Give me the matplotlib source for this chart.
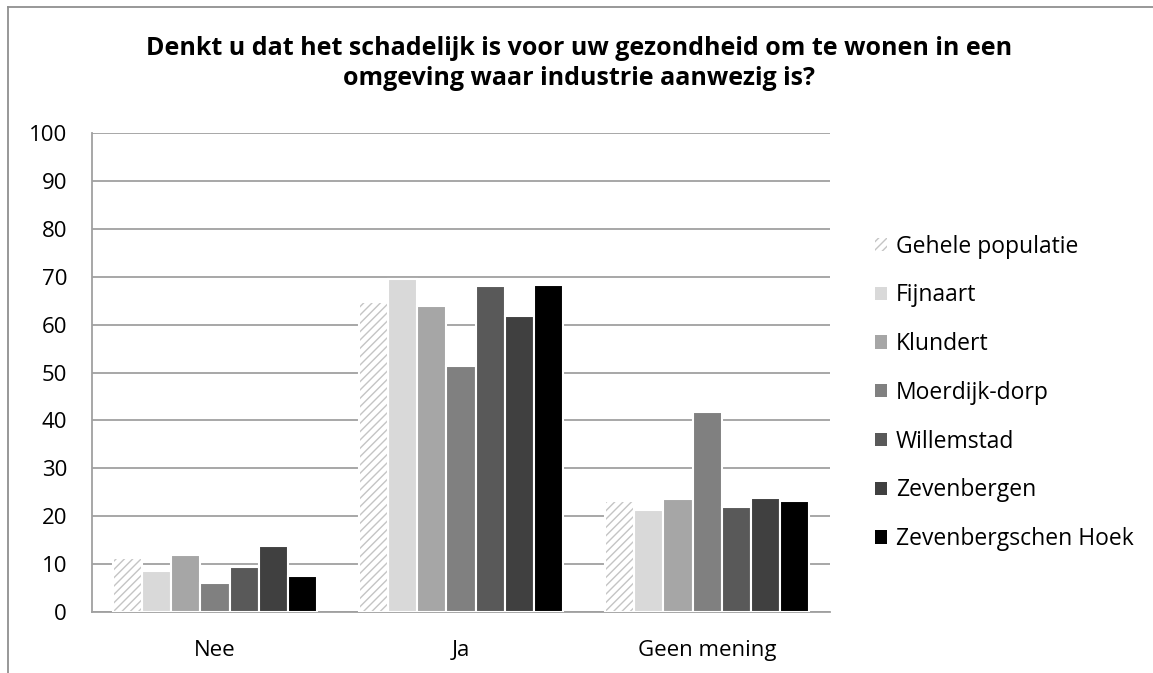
import matplotlib
matplotlib.use("Agg")
import matplotlib.pyplot as plt
import numpy as np
from matplotlib.patches import Patch
from matplotlib.lines import Line2D

categories = ["Nee", "Ja", "Geen mening"]
series_names = ["Gehele populatie", "Fijnaart", "Klundert", "Moerdijk-dorp",
                "Willemstad", "Zevenbergen", "Zevenbergschen Hoek"]
gehele = [11.3, 64.7, 23.2]
fijnaart = [8.5, 69.5, 21.3]
klundert = [11.8, 63.8, 23.6]
moerdijk = [6.1, 51.3, 41.7]
willemstad = [9.4, 68.0, 21.9]
zevenbergen = [13.8, 61.7, 23.8]
zh = [7.6, 68.3, 23.1]
yticks = list(range(0, 101, 10))
title = "Denkt u dat het schadelijk is voor uw gezondheid om te wonen in een\nomgeving waar industrie aanwezig is?"

series = [gehele, fijnaart, klundert, moerdijk, willemstad, zevenbergen, zh]
colors = ["#ffffff", "#d9d9d9", "#a6a6a6", "#808080", "#595959", "#404040", "#000000"]

plt.rcParams['font.family'] = ['Open Sans', 'DejaVu Sans']

fig = plt.figure(figsize=(11.53, 6.73), dpi=100)
ax = fig.add_axes([0.0798, 0.0906, 0.72 - 0.0798, 0.8024 - 0.0906])

x = np.arange(len(categories))
n = len(series)
group_w = 0.83
bw = group_w / n
for i, (vals, c) in enumerate(zip(series, colors)):
    pos = x - group_w / 2 + bw * (i + 0.5)
    if i == 0:
        ax.bar(pos, vals, width=bw, color="white", edgecolor="#c4c4c4",
               hatch="////", linewidth=0, zorder=3)
        ax.bar(pos, vals, width=bw, facecolor="none", edgecolor="white",
               linewidth=1.5, zorder=4)
    else:
        ax.bar(pos, vals, width=bw, color=c, edgecolor="white",
               linewidth=1.5, zorder=3)

ax.set_xlim(-0.5, 2.5)
ax.set_ylim(0, 100)
ax.set_yticks(yticks)
ax.set_xticks(x)
ax.set_xticklabels(categories)
ax.grid(axis="y", color="#a0a0a0", linewidth=1.3, zorder=0)
ax.set_axisbelow(True)
for s in ["top", "right"]:
    ax.spines[s].set_visible(False)
ax.spines["left"].set_color("#a0a0a0")
ax.spines["bottom"].set_color("#a0a0a0")
ax.spines["left"].set_linewidth(1.3)
ax.spines["bottom"].set_linewidth(1.3)
ax.tick_params(axis="y", length=0, labelsize=16, pad=18)
ax.tick_params(axis="x", length=0, labelsize=16, pad=20)

fig.suptitle(title, x=0.502, y=0.946, va="top", fontsize=18, fontweight="bold",
             linespacing=1.25)

handles = [Patch(facecolor="white", edgecolor="#c4c4c4", hatch="////", linewidth=0)]
handles += [Patch(facecolor=c, edgecolor="none") for c in colors[1:]]
fig.legend(handles, series_names, loc="upper left", bbox_to_anchor=(0.751, 0.665),
           frameon=False, fontsize=16.5, handlelength=0.52, handleheight=0.52,
           handletextpad=0.4, labelspacing=1.08, borderaxespad=0)

# outer border (top and left)
fig.add_artist(Line2D([0.007, 0.007], [0, 0.99], transform=fig.transFigure,
                      color="#909090", linewidth=1.3))
fig.add_artist(Line2D([0.007, 1.0], [0.99, 0.99], transform=fig.transFigure,
                      color="#909090", linewidth=1.3))

fig.savefig("out.png", dpi=100)
